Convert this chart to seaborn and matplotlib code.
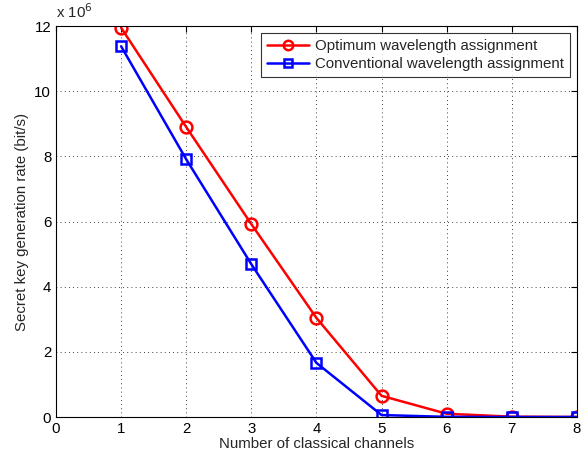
import numpy as np
import pandas as pd
import matplotlib
matplotlib.use("Agg")
import matplotlib.pyplot as plt
import seaborn as sns
from matplotlib.ticker import FuncFormatter

# channel counts and key rates (in units of 1e6 bit/s)
channels = [1, 2, 3, 4, 5, 6, 7, 8]
optimum = [11.95, 8.9, 5.92, 3.04, 0.65, 0.1, 0.01, 0.0]
conventional = [11.38, 7.91, 4.69, 1.66, 0.06, 0.005, 0.0, 0.0]

df = pd.DataFrame({
    "channels": channels,
    "Optimum wavelength assignment": np.array(optimum) * 1e6,
    "Conventional wavelength assignment": np.array(conventional) * 1e6,
})

sns.set_style("white")
plt.rcParams["font.family"] = ["Liberation Sans", "DejaVu Sans"]
plt.rcParams["font.size"] = 10.8

fig = plt.figure(figsize=(5.81, 4.58), dpi=100)
ax = fig.add_axes([0.0964, 0.0895, 0.8966, 0.8535])

sns.lineplot(data=df, x="channels", y="Optimum wavelength assignment", ax=ax,
             color="red", linewidth=1.8, marker="o", markersize=8.5,
             markerfacecolor="none", markeredgecolor="red", markeredgewidth=1.8,
             label="Optimum wavelength assignment")
sns.lineplot(data=df, x="channels", y="Conventional wavelength assignment", ax=ax,
             color="blue", linewidth=1.8, marker="s", markersize=7.5,
             markerfacecolor="none", markeredgecolor="blue", markeredgewidth=1.8,
             label="Conventional wavelength assignment")

ax.set_xlim(0, 8)
ax.set_ylim(0, 12e6)
ax.set_xticks(range(0, 9))
ax.set_yticks(np.arange(0, 13e6, 2e6))
ax.yaxis.set_major_formatter(FuncFormatter(lambda v, p: f"{v / 1e6:g}"))
ax.text(0.0, 1.012, r"x 10$^6$", transform=ax.transAxes, fontsize=10.8, va="bottom")

ax.grid(True, color="black", linestyle=(0, (1, 4)), linewidth=0.6)
ax.tick_params(direction="in", top=True, right=True, length=4, width=0.8,
               colors="black", labelsize=10.8)
for s in ax.spines.values():
    s.set_color("black")
    s.set_linewidth(0.8)

ax.set_xlabel("Number of classical channels", fontsize=10.8, labelpad=1)
ax.set_ylabel("Secret key generation rate (bit/s)", fontsize=10.8)

leg = ax.legend(loc="upper right", fontsize=10.8, frameon=True, fancybox=False,
                edgecolor="black", borderpad=0.4, handlelength=2.8,
                labelspacing=0.3, handletextpad=0.4, borderaxespad=0.45,
                markerscale=0.8)
leg.get_frame().set_linewidth(0.8)

fig.savefig("out.png", dpi=100)
